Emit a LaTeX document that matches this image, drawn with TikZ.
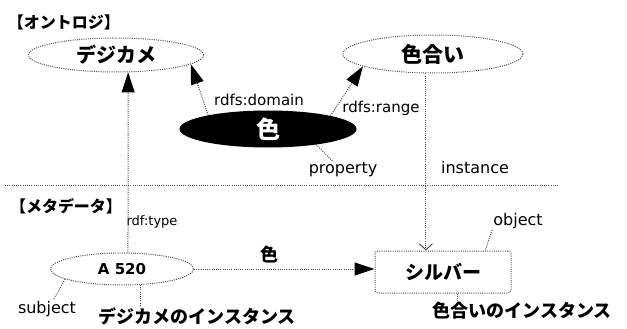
\documentclass[tikz,border=0pt]{standalone}
\usepackage{fontspec}
\setmainfont{Noto Sans CJK JP}
\newfontfamily\lat{DejaVu Sans}
\usetikzlibrary{shapes.geometric,arrows.meta,calc}
\begin{document}
\begin{tikzpicture}[x=1pt,y=-1pt,
  dl/.style={draw=black!70, line width=1pt, dash pattern=on 1pt off 1.2pt},
  bigtip/.style={-{Triangle[length=20pt,width=13pt,color=black]}},
  jp/.style={font=\fontsize{#1}{#1}\selectfont\bfseries, inner sep=1pt},
  lab/.style={font=\lat\fontsize{#1}{#1}\selectfont, inner sep=1pt},
  cls/.style={ellipse, dl, inner sep=0pt}
]
\useasboundingbox (0,0) rectangle (627,329);
% ontology part
\node[jp=16] (ont) at (64,22) {【オントロジ】};
\node[cls, minimum width=175pt, minimum height=34pt, jp=20] (dejikame) at (116,55) {デジカメ};
\node[cls, minimum width=180pt, minimum height=38pt, jp=21] (iroai) at (433,54) {色合い};
\node[ellipse, fill=black, text=white, minimum width=177pt, minimum height=37pt, jp=24] (iro) at (268,129) {色};
\node[lab=15] (dom) at (259,100) {rdfs:domain};
\node[lab=15] (rng) at (381,108) {rdfs:range};
\node[lab=16] (prop) at (343,170) {property};
\node[lab=16] (inst) at (475,168) {instance};
% separator
\coordinate (sepL) at (5,185);
\coordinate (sepR) at (558,185);
\draw[dl] (sepL) -- (sepR);
% metadata part
\node[jp=16] (meta) at (66,206) {【メタデータ】};
\node[lab=13] (rtype) at (152,222) {rdf:type};
\node[cls, minimum width=143pt, minimum height=32pt, font=\lat\bfseries\fontsize{15}{15}\selectfont] (a520) at (122,269) {A 520};
\node[rectangle, rounded corners=3pt, dl, minimum width=136pt, minimum height=42pt, jp=19] (silver) at (443,272) {シルバー};
\node[lab=16] (obj) at (518,221) {object};
\node[lab=16] (subj) at (47,309) {subject};
\node[jp=18] (dinst) at (197,316) {デジカメのインスタンス};
\node[jp=18] (iinst) at (522,311) {色合いのインスタンス};
% connectors
\draw[dl, bigtip] (a520.70) -- (dejikame.-55);
\draw[dl, bigtip] (iro.167) -- (dejikame.-7);
\draw[dl, bigtip] (iro.12) -- (iroai.190);
\draw[dl, -{Straight Barb[length=6pt,width=13pt]}] (iroai.-110) -- (iroai.-110 |- silver.north);
\draw[dl, bigtip] (a520.east) -- node[pos=.42, above=4pt, jp=18] (edgeiro) {色} (a520.east -| silver.west);
\draw[dl] (iro.-18) -- (prop.140);
\draw[dl] (obj.south west) -- (silver.27);
\draw[dl] (silver.-56) -- (silver.-56 |- iinst.north);
\draw[dl] (a520.-40) -- (a520.-40 |- dinst.north);
\draw[dl] (a520.-170) -- (subj.55);
\end{tikzpicture}
\end{document}
